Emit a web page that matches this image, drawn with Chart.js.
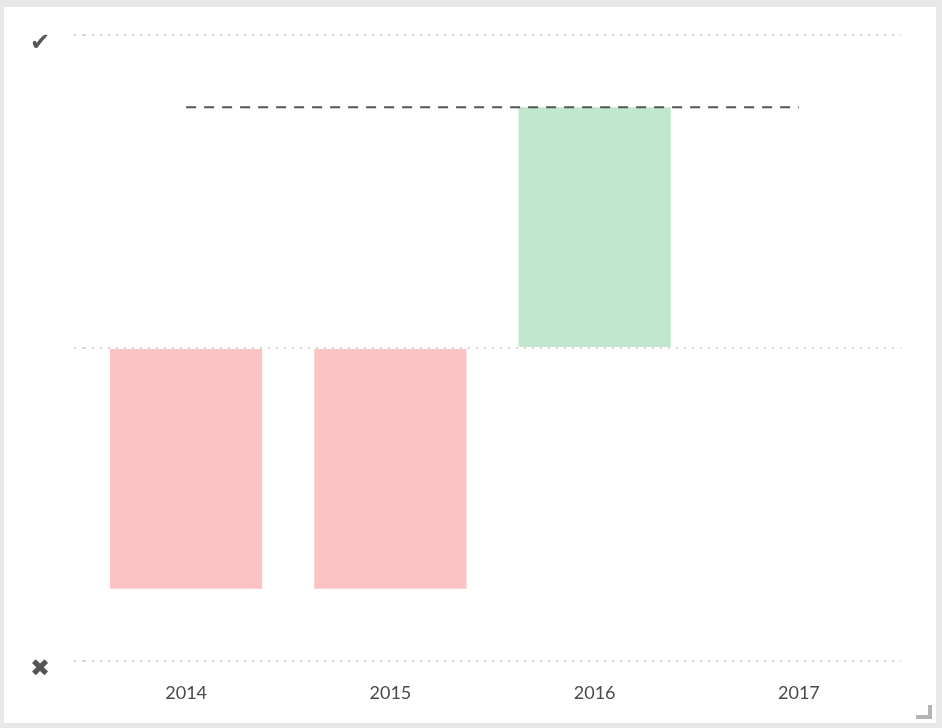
<!DOCTYPE html>
<html>
<head>
<meta charset="utf-8">
<script src="https://cdn.jsdelivr.net/npm/chart.js@4"></script>
<style>
  html, body { margin: 0; padding: 0; background: #e8e8e8; width: 942px; height: 728px; overflow: hidden; }
  #panel { position: absolute; left: 4px; top: 7px; width: 932px; height: 716px; background: #ffffff; }
  #panel canvas { position: absolute; left: 0; top: 0; }
  #grip { position: absolute; left: 916px; top: 705px; width: 12px; height: 10px;
          border-right: 4px solid #b4b4b4; border-bottom: 4px solid #b4b4b4; }
</style>
</head>
<body>
<div id="panel"><canvas id="c" width="932" height="716"></canvas></div>
<div id="grip"></div>
<script>
// ---- data ----
const categories = ['2014', '2015', '2016', '2017'];
const resultValues = [-1, -1, 1, null];
const targetValues = [1, 1, 1, 1];
const yTickValues = [-1.3, 0, 1.3];
const yTickLabels = ['✖', '', '✔'];
const yMin = -1.3;
const yMax = 1.3;

const RED = '#fdc3c4';
const GREEN = '#c1e7cf';

new Chart(document.getElementById('c'), {
  data: {
    labels: categories,
    datasets: [
      {
        type: 'line',
        data: targetValues,
        borderColor: '#555555',
        borderWidth: 2,
        borderDash: [10, 8],
        pointRadius: 0,
        fill: false,
        order: 0
      },
      {
        type: 'bar',
        data: resultValues,
        backgroundColor: ctx => (ctx.raw !== null && ctx.raw < 0 ? RED : GREEN),
        borderWidth: 0,
        categoryPercentage: 1,
        barPercentage: 0.745,
        order: 1
      }
    ]
  },
  options: {
    responsive: false,
    animation: false,
    layout: { padding: { top: 28, right: 35, left: 0, bottom: 0 } },
    plugins: { legend: { display: false }, tooltip: { enabled: false } },
    scales: {
      x: {
        offset: true,
        grid: { display: false, drawTicks: false },
        border: { display: false },
        ticks: {
          padding: 21,
          color: '#4a4a4a',
          font: { family: 'Lato', size: 18 }
        },
        afterFit: s => { s.height = 62; s.paddingLeft = 0; s.paddingRight = 0; }
      },
      y: {
        min: yMin,
        max: yMax,
        afterBuildTicks: s => { s.ticks = yTickValues.map(v => ({ value: v })); },
        grid: {
          color: '#d6d6d6',
          lineWidth: 2,
          drawTicks: true,
          tickLength: 10,
          tickColor: '#d6d6d6',
          tickBorderDash: [2, 6]
        },
        border: { display: false, dash: [2, 6] },
        ticks: {
          padding: 24,
          labelOffset: 9,
          color: '#555555',
          font: { family: 'DejaVu Sans', size: 24 },
          callback: (v, i) => yTickLabels[i]
        },
        afterFit: s => { s.width = 80; s.paddingTop = 0; s.paddingBottom = 0; }
      }
    }
  }
});
</script>
</body>
</html>
